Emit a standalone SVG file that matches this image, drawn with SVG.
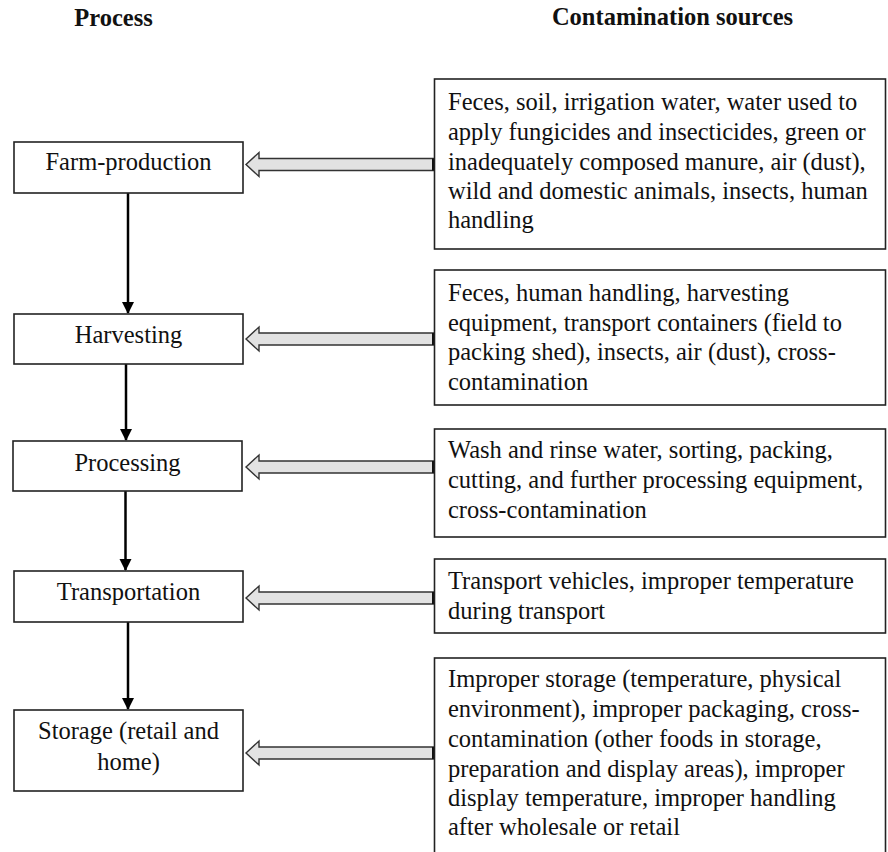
<svg xmlns="http://www.w3.org/2000/svg" width="888" height="852" viewBox="0 0 888 852">
<style>
text{font-family:"Liberation Serif","Times New Roman",serif;font-size:24.5px;fill:#111}
.h{font-weight:bold;text-anchor:middle}
.c{text-anchor:middle}
.box{fill:#fff;stroke:#222;stroke-width:1.6}
.flow{stroke:#000;stroke-width:2.5;fill:none}
.hollow{fill:#e2e2e2;stroke:#333;stroke-width:1.4;stroke-linejoin:miter}
</style>
<defs>
<marker id="ah" markerWidth="12" markerHeight="13" refX="11" refY="6" orient="auto" markerUnits="userSpaceOnUse" viewBox="0 0 12 12">
<path d="M0,0 L12,6 L0,12 Z" fill="#000"/>
</marker>
<g id="hollowArrow">
<path class="hollow" d="M0,0 L13,-12 L13,-6 L188,-6 L188,6 L13,6 L13,12 Z"/>
<rect x="186" y="-6" width="3.5" height="12" fill="#111"/>
</g>
</defs>
<g id="headings">
<text class="h" x="113.5" y="26">Process</text>
<text class="h" x="672.5" y="25">Contamination sources</text>
</g>
<g id="connectors">
<line class="flow" x1="128" y1="193" x2="128" y2="313" marker-end="url(#ah)"/>
<line class="flow" x1="126" y1="364" x2="126" y2="440" marker-end="url(#ah)"/>
<line class="flow" x1="125.5" y1="491" x2="125.5" y2="570" marker-end="url(#ah)"/>
<line class="flow" x1="128" y1="622" x2="128" y2="709" marker-end="url(#ah)"/>
<use href="#hollowArrow" x="246" y="164.5"/>
<use href="#hollowArrow" x="246" y="339"/>
<use href="#hollowArrow" x="246" y="467"/>
<use href="#hollowArrow" x="246" y="598"/>
<use href="#hollowArrow" x="246" y="753"/>
</g>
<g id="farm-production">
<rect class="box" x="14" y="142" width="229" height="51"/>
<text class="c" x="128.5" y="170">Farm-production</text>
</g>
<g id="harvesting">
<rect class="box" x="14" y="314" width="229" height="50"/>
<text class="c" x="128.5" y="343">Harvesting</text>
</g>
<g id="processing">
<rect class="box" x="13" y="441" width="229" height="50"/>
<text class="c" x="127.5" y="471">Processing</text>
</g>
<g id="transportation">
<rect class="box" x="14" y="571" width="229" height="51"/>
<text class="c" x="128.5" y="600">Transportation</text>
</g>
<g id="storage">
<rect class="box" x="14" y="710" width="229" height="81"/>
<text class="c" x="128.5" y="739">Storage (retail and</text>
<text class="c" x="128.5" y="770">home)</text>
</g>
<g id="src-farm">
<rect class="box" x="434.5" y="79" width="451" height="170"/>
<text x="448" y="110">Feces, soil, irrigation water, water used to</text>
<text x="448" y="140">apply fungicides and insecticides, green or</text>
<text x="448" y="170">inadequately composed manure, air (dust),</text>
<text x="448" y="199">wild and domestic animals, insects, human</text>
<text x="448" y="228">handling</text>
</g>
<g id="src-harvesting">
<rect class="box" x="434.5" y="270" width="451" height="135"/>
<text x="448" y="301">Feces, human handling, harvesting</text>
<text x="448" y="331">equipment, transport containers (field to</text>
<text x="448" y="360">packing shed), insects, air (dust), cross-</text>
<text x="448" y="390">contamination</text>
</g>
<g id="src-processing">
<rect class="box" x="434.5" y="429" width="451" height="108"/>
<text x="448" y="458">Wash and rinse water, sorting, packing,</text>
<text x="448" y="488">cutting, and further processing equipment,</text>
<text x="448" y="518">cross-contamination</text>
</g>
<g id="src-transportation">
<rect class="box" x="434.5" y="559" width="451" height="74"/>
<text x="448" y="589">Transport vehicles, improper temperature</text>
<text x="448" y="619">during transport</text>
</g>
<g id="src-storage">
<rect class="box" x="434.5" y="658" width="451" height="210"/>
<text x="448" y="687">Improper storage (temperature, physical</text>
<text x="448" y="717">environment), improper packaging, cross-</text>
<text x="448" y="747">contamination (other foods in storage,</text>
<text x="448" y="777">preparation and display areas), improper</text>
<text x="448" y="806">display temperature, improper handling</text>
<text x="448" y="835">after wholesale or retail</text>
</g>
</svg>
